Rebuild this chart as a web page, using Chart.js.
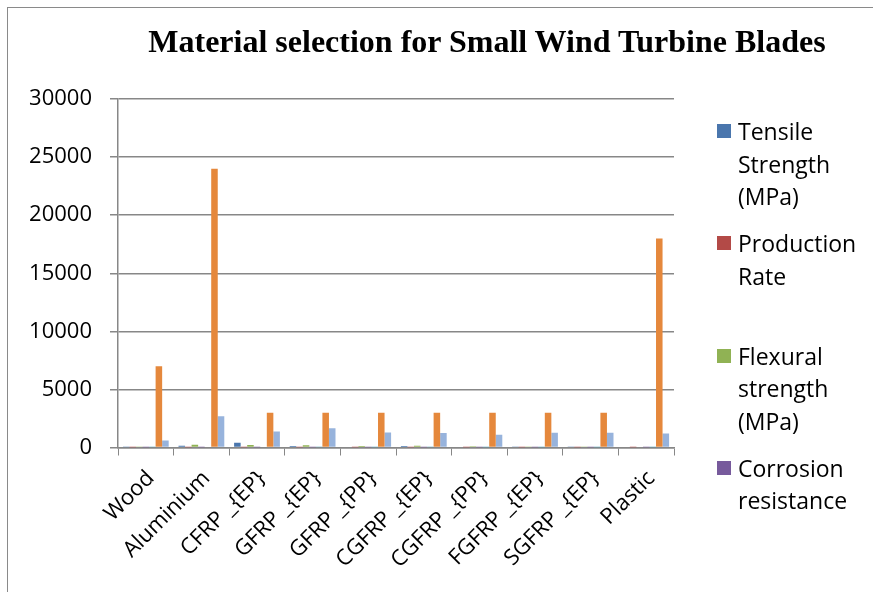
<!DOCTYPE html>
<html>
<head>
<meta charset="utf-8">
<title>Material selection for Small Wind Turbine Blades</title>
<script src="https://cdn.jsdelivr.net/npm/chart.js@4.4.1/dist/chart.umd.min.js"></script>
<style>
  body { margin: 0; background: #fff; }
  #wrap { position: relative; width: 873px; height: 592px; overflow: hidden; }
  #frame { position: absolute; left: 7px; top: 7px; width: 900px; height: 700px;
           border-left: 1.5px solid #8a8a8a; border-top: 1.5px solid #8a8a8a; }
  #title { position: absolute; left: 0; top: 22px; width: 974px; text-align: center;
           font: bold 32px "Liberation Serif", "Times New Roman", serif; line-height: 38px; color: #000; }
  #legend { position: absolute; left: 717px; top: 115px; width: 156px; height: 440px; overflow: hidden;
            font: 23px "Open Sans", sans-serif; line-height: 32.5px; color: #000; }
  .item { position: relative; height: 97.5px; margin-bottom: 14.8px; padding-left: 21px; }
  .item .sw { position: absolute; left: 0; top: 9px; width: 14px; height: 14px; }
  canvas { position: absolute; left: 0; top: 0; }
</style>
</head>
<body>
<div id="wrap">
  <div id="frame"></div>
  <canvas id="chart" width="873" height="592"></canvas>
  <div id="title">Material selection for Small Wind Turbine Blades</div>
  <div id="legend"></div>
</div>
<script>
const categories = ['Wood', 'Aluminium', 'CFRP _{EP}', 'GFRP _{EP}', 'GFRP _{PP}', 'CGFRP _{EP}', 'CGFRP _{PP}', 'FGFRP _{EP}', 'SGFRP _{EP}', 'Plastic'];

// values (small ones are estimates)
const tensile    = [30, 160, 400, 130, 70, 130, 70, 40, 40, 0];
const production = [2, 2, 3, 4, 5, 3, 4, 3, 3, 1];
const flexural   = [90, 240, 215, 190, 130, 160, 110, 40, 40, 0];
const corrosion  = [2, 4, 5, 5, 5, 5, 5, 4, 4, 1];
const modulus    = [11, 70, 70, 20, 10, 20, 10, 10, 10, 2];
const cost       = [7000, 24000, 3000, 3000, 3000, 3000, 3000, 3000, 3000, 18000];
const density    = [600, 2700, 1380, 1650, 1300, 1250, 1100, 1280, 1280, 1200];

const yTicks = [0, 5000, 10000, 15000, 20000, 25000, 30000];

const seriesNames  = ['Tensile Strength (MPa)', 'Production Rate', 'Flexural strength (MPa)', 'Corrosion resistance', "Young's Modulus (GPa)", 'Cost', 'Density (kg/m3)'];
const seriesColors = ['#4a76ad', '#b34a47', '#90b254', '#775a9c', '#4a9db5', '#e5883c', '#97b3dc'];
const seriesData   = [tensile, production, flexural, corrosion, modulus, cost, density];

const gridColor = '#878787';
const tickFont = { family: 'Open Sans', size: 22 };

const ctx = document.getElementById('chart').getContext('2d');
const chart = new Chart(ctx, {
    type: 'bar',
    data: {
        labels: categories,
        datasets: seriesNames.map((name, i) => ({
            label: name,
            data: seriesData[i],
            backgroundColor: seriesColors[i],
            borderWidth: 0,
            categoryPercentage: 7 / 8.5,
            barPercentage: 1
        }))
    },
    options: {
        responsive: false,
        animation: false,
        layout: { padding: { top: 99, right: 199, left: 0, bottom: 0 } },
        plugins: {
            legend: { display: false },
            title: { display: false },
            tooltip: { enabled: false }
        },
        scales: {
            x: {
                offset: true,
                grid: { display: true, drawOnChartArea: false, drawTicks: true, tickLength: 8, color: gridColor, offset: true },
                border: { display: true, color: gridColor, width: 1.5 },
                ticks: { font: tickFont, color: '#000', minRotation: 45, maxRotation: 45, autoSkip: false, padding: 10, labelOffset: 5 },
                afterFit: scale => { scale.height = 144.5; }
            },
            y: {
                min: 0,
                max: 30000,
                afterBuildTicks: scale => { scale.ticks = yTicks.map(v => ({ value: v })); },
                grid: { color: gridColor, lineWidth: 1.5, tickLength: 8 },
                border: { display: true, color: gridColor, width: 1.5 },
                ticks: { font: tickFont, color: '#000', padding: 18, callback: v => String(v) },
                afterFit: scale => { scale.width = 118; }
            }
        }
    }
});

// legend: only the first four entries fit in the original box
const legend = document.getElementById('legend');
chart.data.datasets.forEach(ds => {
    const div = document.createElement('div');
    div.className = 'item';
    div.innerHTML = `<span class="sw" style="background:${ds.backgroundColor}"></span>${ds.label}`;
    legend.appendChild(div);
});
</script>
</body>
</html>
